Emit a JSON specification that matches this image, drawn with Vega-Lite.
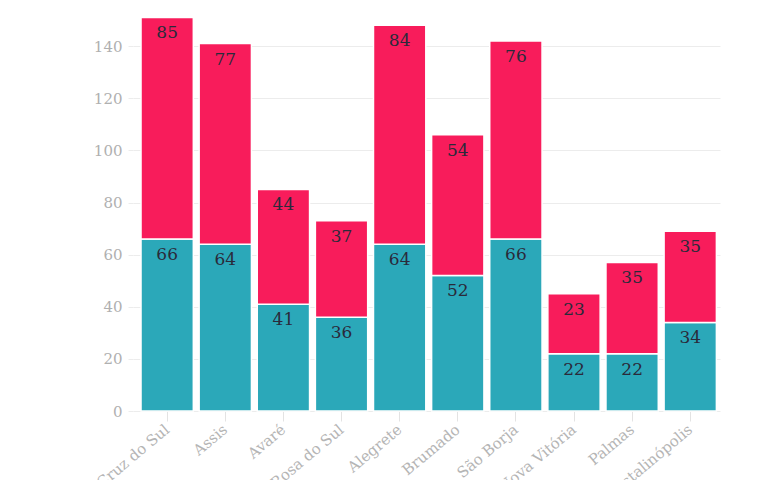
{
  "$schema": "https://vega.github.io/schema/vega-lite/v6.json",
  "width": 587,
  "height": 417,
  "autosize": {"type": "none"},
  "padding": {"left": 133, "top": -6, "right": 50, "bottom": 69},
  "background": "white",
  "config": {"view": {"stroke": null}},
  "data": {
    "values": [
      {"campus": "Santa Cruz do Sul", "serie": "A", "ordem": 1, "valor": 66},
      {"campus": "Santa Cruz do Sul", "serie": "B", "ordem": 2, "valor": 85},
      {"campus": "Assis", "serie": "A", "ordem": 1, "valor": 64},
      {"campus": "Assis", "serie": "B", "ordem": 2, "valor": 77},
      {"campus": "Avaré", "serie": "A", "ordem": 1, "valor": 41},
      {"campus": "Avaré", "serie": "B", "ordem": 2, "valor": 44},
      {"campus": "Santa Rosa do Sul", "serie": "A", "ordem": 1, "valor": 36},
      {"campus": "Santa Rosa do Sul", "serie": "B", "ordem": 2, "valor": 37},
      {"campus": "Alegrete", "serie": "A", "ordem": 1, "valor": 64},
      {"campus": "Alegrete", "serie": "B", "ordem": 2, "valor": 84},
      {"campus": "Brumado", "serie": "A", "ordem": 1, "valor": 52},
      {"campus": "Brumado", "serie": "B", "ordem": 2, "valor": 54},
      {"campus": "São Borja", "serie": "A", "ordem": 1, "valor": 66},
      {"campus": "São Borja", "serie": "B", "ordem": 2, "valor": 76},
      {"campus": "Nova Vitória", "serie": "A", "ordem": 1, "valor": 22},
      {"campus": "Nova Vitória", "serie": "B", "ordem": 2, "valor": 23},
      {"campus": "Palmas", "serie": "A", "ordem": 1, "valor": 22},
      {"campus": "Palmas", "serie": "B", "ordem": 2, "valor": 35},
      {"campus": "Cristalinópolis", "serie": "A", "ordem": 1, "valor": 34},
      {"campus": "Cristalinópolis", "serie": "B", "ordem": 2, "valor": 35}
    ]
  },
  "encoding": {
    "x": {
      "field": "campus",
      "type": "nominal",
      "sort": null,
      "scale": {"paddingInner": 0.1, "paddingOuter": 0.1, "align": 0.69},
      "axis": {
        "title": null,
        "domain": false,
        "labelAngle": -40,
        "labelAlign": "right",
        "labelBaseline": "middle",
        "labelFont": "DejaVu Serif",
        "labelFontSize": 15,
        "labelColor": "#b5b5b5",
        "tickColor": "#e3e3e3",
        "tickSize": 10,
        "labelPadding": 6
      }
    },
    "y": {
      "field": "valor",
      "type": "quantitative",
      "stack": "zero",
      "scale": {"domain": [0, 160]},
      "axis": {
        "title": null,
        "domain": false,
        "values": [0, 20, 40, 60, 80, 100, 120, 140, 160],
        "labelFont": "DejaVu Serif",
        "labelFontSize": 15,
        "labelColor": "#b0b0b0",
        "gridColor": "#ececec",
        "tickColor": "#ececec",
        "tickSize": 5,
        "labelPadding": 6
      }
    },
    "order": {"field": "ordem", "type": "quantitative"}
  },
  "layer": [
    {
      "mark": {"type": "bar", "stroke": "white", "strokeWidth": 1.5},
      "encoding": {
        "color": {
          "field": "serie",
          "type": "nominal",
          "scale": {"domain": ["A", "B"], "range": ["#2ba8b9", "#f81c5b"]},
          "legend": null
        }
      }
    },
    {
      "mark": {"type": "text", "baseline": "middle", "dy": 16, "font": "DejaVu Serif", "fontSize": 17, "color": "#2a2a3a"},
      "encoding": {
        "text": {"field": "valor", "type": "quantitative"}
      }
    }
  ]
}
